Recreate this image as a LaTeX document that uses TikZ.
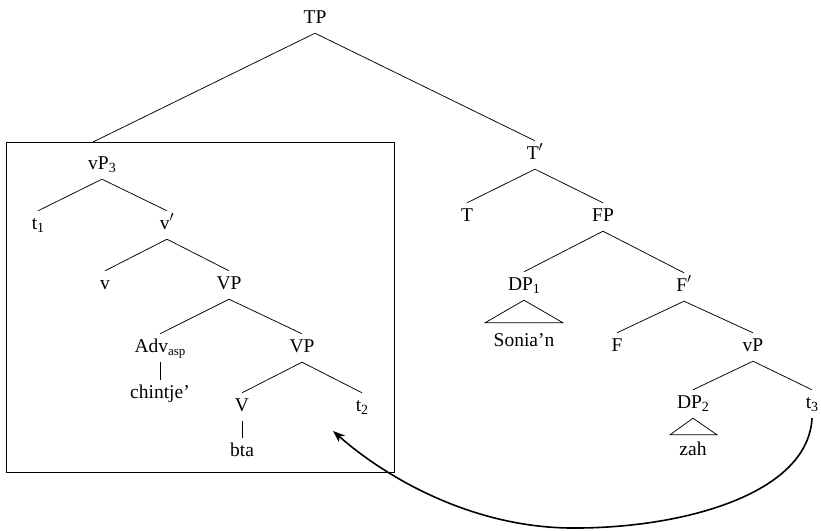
\documentclass[tikz,border=0pt]{standalone}
\usepackage{fontspec}
\setmainfont{Liberation Serif}
\usetikzlibrary{arrows.meta}
\newcommand{\sbs}[1]{\raisebox{-0.4ex}{\fontsize{14}{14}\selectfont #1}}
\newcommand{\sbsmall}[1]{\raisebox{-0.35ex}{\fontsize{13}{13}\selectfont #1}}
\begin{document}
\begin{tikzpicture}[x=1pt,y=-1pt,
  tn/.style={anchor=base,inner xsep=0pt,inner ysep=3pt,text height=15pt,text depth=7pt,font=\fontsize{19.5}{22}\selectfont},
  br/.style={line width=0.75pt},
  tri/.style={line width=0.75pt},
  frame/.style={line width=0.8pt},
  mv/.style={line width=1.6pt,-{Stealth[length=12pt,width=9pt,inset=3.5pt]}}]
\useasboundingbox (0,0) rectangle (821,530);

% frame
\draw[frame] (6,142) rectangle (394,472);

% nodes
\node[tn] (TP) at (315,23) {TP};
\coordinate (bx) at (93,142);
\node[tn] (vP3) at (102,169) {vP\sbs{3}};
\node[tn] (t1) at (38,229) {t\sbs{1}};
\node[tn] (vbar) at (167,229) {v$'$};
\node[tn] (v) at (105,289) {v};
\node[tn] (VPa) at (229,289) {VP};
\node[tn] (Adv) at (160,352) {Adv\sbsmall{asp}};
\node[tn] (VPb) at (302,352) {VP};
\node[tn] (chin) at (160,398) {chintje’};
\node[tn] (V) at (242,411) {V};
\node[tn] (t2) at (362,411) {t\sbs{2}};
\node[tn] (bta) at (242,456) {bta};

\node[tn] (Tbar) at (535,159) {T$'$};
\node[tn] (T) at (467,221) {T};
\node[tn] (FP) at (603,221) {FP};
\node[tn] (DP1) at (524,290) {DP\sbs{1}};
\node[tn] (Fbar) at (684,291) {F$'$};
\node[tn] (sonia) at (524,346) {Sonia’n};
\node[tn] (F) at (617,351) {F};
\node[tn] (vP) at (753,351) {vP};
\node[tn] (DP2) at (693,408) {DP\sbs{2}};
\node[tn] (t3) at (812,408) {t\sbs{3}};
\node[tn] (zah) at (693,455) {zah};
\coordinate (tip) at (333,431);

% branches
\draw[br] (bx) -- (TP.south) -- (Tbar.north);
\draw[br] (t1.north) -- (vP3.south) -- (vbar.north);
\draw[br] (v.north) -- (vbar.south) -- (VPa.north);
\draw[br] (Adv.north) -- (VPa.south) -- (VPb.north);
\draw[br] (Adv.south) -- (chin.north);
\draw[br] (V.north) -- (VPb.south) -- (t2.north);
\draw[br] (V.south) -- (bta.north);
\draw[br] (T.north) -- (Tbar.south) -- (FP.north);
\draw[br] (DP1.north) -- (FP.south) -- (Fbar.north);
\draw[br] (F.north) -- (Fbar.south) -- (vP.north);
\draw[br] (DP2.north) -- (vP.south) -- (t3.north);

% triangles
\draw[tri] (DP1.south) -- ([xshift=-39pt,yshift=5pt]sonia.north) -- ([xshift=39pt,yshift=5pt]sonia.north) -- cycle;
\draw[tri] (DP2.south) -- ([xshift=-23pt,yshift=2pt]zah.north) -- ([xshift=24pt,yshift=2pt]zah.north) -- cycle;

% movement arrow
\draw[mv] (t3.south) .. controls (808,495) and (680,529) .. (570,528) .. controls (475,527) and (390,481) .. (tip);
\end{tikzpicture}
\end{document}
